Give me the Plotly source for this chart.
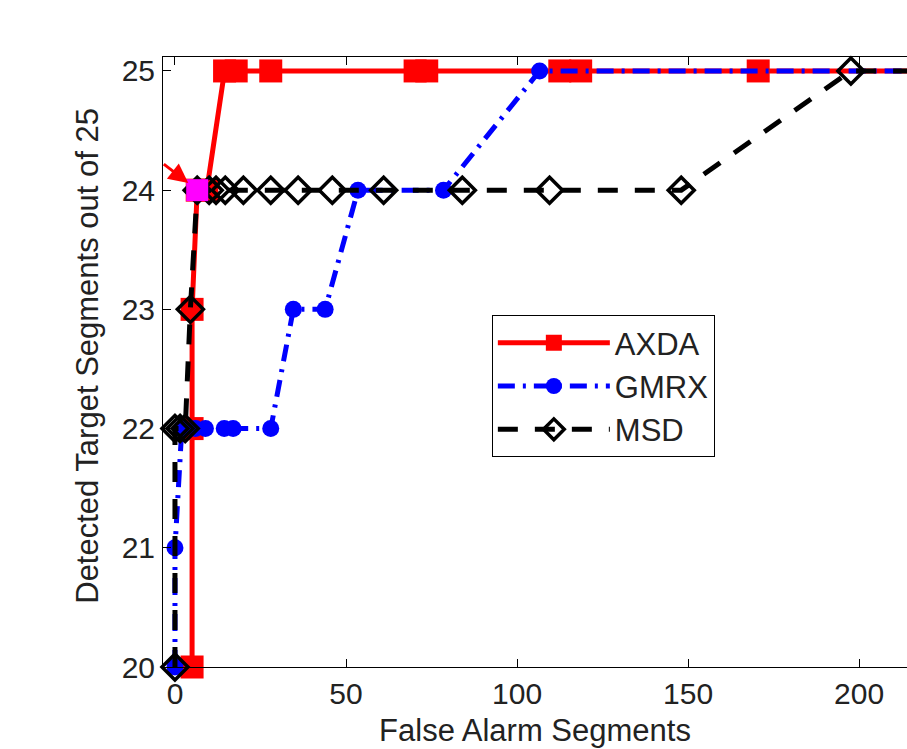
import plotly.graph_objects as go

# ---- data ----
axda_x = [5, 5, 5, 6.5, 9.3, 14.5, 17.9, 28, 70.2, 73.6, 112.5, 118.6, 170.5, 260]
axda_y = [20, 22, 23, 24, 24, 25, 25, 25, 25, 25, 25, 25, 25, 25]

gmrx_x = [0, 0, 2, 6, 8.9, 14.4, 17, 28, 34.6, 43.9, 53.5, 78.5, 106.6, 260]
gmrx_y = [20, 21, 22, 22, 22, 22, 22, 22, 23, 23, 24, 24, 25, 25]

msd_x = [0, 0, 1.5, 3, 4.5, 6.5, 10, 12, 14.7, 20, 28, 36, 46, 61, 84, 109.5, 148, 197.6, 260]
msd_y = [20, 22, 22, 22, 23, 24, 24, 24, 24, 24, 24, 24, 24, 24, 24, 24, 24, 25, 25]

highlight_x = [6.5]
highlight_y = [24]

x_ticks = [0, 50, 100, 150, 200]
y_ticks = [20, 21, 22, 23, 24, 25]

FONT = "Liberation Sans, Arial, Helvetica, sans-serif"
TXT = "#222222"

fig = go.Figure()

fig.add_trace(go.Scatter(
    x=axda_x, y=axda_y, name="AXDA", mode="lines+markers",
    line=dict(color="#ff0000", width=5),
    marker=dict(symbol="square", size=23, color="#ff0000"),
    cliponaxis=False,
))
fig.add_trace(go.Scatter(
    x=gmrx_x, y=gmrx_y, name="GMRX", mode="lines+markers",
    line=dict(color="#0000ff", width=5, dash="17px,8px,3px,8px"),
    marker=dict(symbol="circle", size=17, color="#0000ff"),
    cliponaxis=False,
))
fig.add_trace(go.Scatter(
    x=msd_x, y=msd_y, name="MSD", mode="lines+markers",
    line=dict(color="#000000", width=5, dash="20px,17px"),
    marker=dict(symbol="diamond-open", size=20, color="#000000",
                line=dict(color="#000000", width=3.5)),
    cliponaxis=False,
))
fig.add_trace(go.Scatter(
    x=highlight_x, y=highlight_y, mode="markers", showlegend=False,
    marker=dict(symbol="square", size=22, color="#ff00ff"),
    cliponaxis=False,
))

fig.add_annotation(
    x=3.9, y=24.06, xref="x", yref="y", text="", showarrow=True,
    ax=-26, ay=-20, arrowhead=2, arrowsize=1.3, arrowwidth=3,
    arrowcolor="#ff0000",
)

# y-axis title placed as rotated text
fig.add_annotation(
    text="Detected Target Segments out of 25", xref="paper", yref="paper",
    x=-0.101, y=0.51, xanchor="center", yanchor="middle", textangle=-90,
    showarrow=False, font=dict(family=FONT, size=31, color=TXT),
)

fig.update_layout(
    autosize=False,
    width=907, height=749,
    margin=dict(l=163, r=0, t=57, b=82),
    paper_bgcolor="white", plot_bgcolor="white",
    font=dict(family=FONT, size=30, color=TXT),
    showlegend=True,
    legend=dict(
        x=0.442, y=0.577, xanchor="left", yanchor="top",
        bgcolor="white", bordercolor="#000000", borderwidth=1,
        font=dict(family=FONT, size=31, color=TXT),
        itemwidth=112, tracegroupgap=0,
    ),
    xaxis=dict(
        range=[-3.5, 214.0], tickvals=x_ticks, ticktext=[str(v) for v in x_ticks],
        ticks="inside", ticklen=8, tickwidth=1, tickcolor="#000000",
        showline=True, linecolor="#000000", linewidth=1, mirror="ticks",
        showgrid=False, zeroline=False,
        tickfont=dict(family=FONT, size=30, color=TXT),
        title=dict(text="False Alarm Segments", font=dict(family=FONT, size=31, color=TXT), standoff=10),
    ),
    yaxis=dict(
        range=[20, 25.117], tickvals=y_ticks, ticktext=[str(v) for v in y_ticks],
        ticks="inside", ticklen=8, tickwidth=1, tickcolor="#000000",
        showline=True, linecolor="#000000", linewidth=1, mirror=False,
        showgrid=False, zeroline=False,
        tickfont=dict(family=FONT, size=30, color=TXT),
        ticklabelstandoff=1,
    ),
)

fig.write_html(
    "out.html",
    config={"responsive": False, "displayModeBar": False},
    post_script="document.body.style.margin='0';document.body.style.overflow='hidden';",
)
